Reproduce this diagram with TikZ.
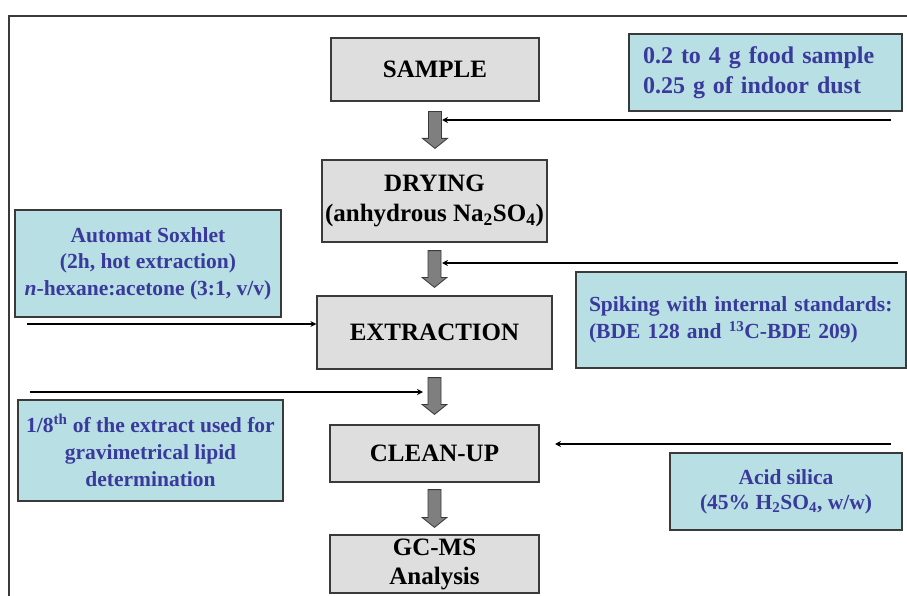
\documentclass[tikz,border=0pt]{standalone}
\usepackage{fontspec}
\setmainfont{Liberation Serif}
\usetikzlibrary{calc,arrows.meta}
\definecolor{grayfill}{HTML}{DEDEDE}
\definecolor{boxline}{HTML}{3A3A3A}
\definecolor{bluefill}{HTML}{B8DFE3}
\definecolor{bluetext}{HTML}{3A3A9C}
\definecolor{arrowfill}{HTML}{7F7F7F}
\newcommand\blockarr[2]{\draw[barrow] let \p1=(#1), \p2=(#2) in
  (\x1-6.5pt,\y1) -- (\x1+6.5pt,\y1) -- (\x1+6.5pt,\y2+10pt) -- (\x1+12.5pt,\y2+10pt)
  -- (\x1,\y2) -- (\x1-12.5pt,\y2+10pt) -- (\x1-6.5pt,\y2+10pt) -- cycle;}
\begin{document}
\begin{tikzpicture}[x=1pt,y=-1pt,
  stepbox/.style={draw=boxline,line width=1.2pt,fill=grayfill,inner sep=0pt,align=center,
    font=\fontsize{25}{30}\selectfont\bfseries},
  notebox/.style={draw=boxline,line width=1.2pt,fill=bluefill,inner sep=0pt,align=center,
    text=bluetext,font=\fontsize{21.5}{27}\selectfont\bfseries},
  barrow/.style={draw=boxline,line width=0.8pt,fill=arrowfill},
  feed/.style={line width=1.1pt,-{Stealth[length=6pt,width=6pt]}},
  frame/.style={line width=1.5pt,draw=boxline}]
\useasboundingbox (0,0) rectangle (907,596);
\fill[white] (0,0) rectangle (907,596);
\draw[frame] (9,600) -- (9,16) -- (912,16);

% process boxes
\node[stepbox,minimum width=208pt,minimum height=63pt] (sample) at (435,69.5) {SAMPLE};
\node[stepbox,minimum width=225pt,minimum height=82pt] (drying) at (434.5,201) {DRYING\\(anhydrous Na\textsubscript{2}SO\textsubscript{4})};
\node[stepbox,minimum width=235pt,minimum height=73pt] (extraction) at (434.5,332.5) {EXTRACTION};
\node[stepbox,minimum width=209pt,minimum height=57pt] (cleanup) at (434.5,453.5) {CLEAN-UP};
\node[stepbox,minimum width=209pt,minimum height=58pt,font=\fontsize{25}{29}\selectfont\bfseries] (gcms) at (434.5,564) {GC-MS\\Analysis};

% note boxes
\node[notebox,align=left,inner xsep=14pt,text width=245pt,minimum height=77pt,
  font=\fontsize{24}{30}\selectfont\bfseries] (food) at (765.5,72.5)
  {0.2 to 4 g food sample\\0.25 g of indoor dust};
\node[notebox,minimum width=266pt,minimum height=107pt,font=\fontsize{21.5}{26.5}\selectfont\bfseries] (soxhlet) at (148,263.5)
  {Automat Soxhlet\\(2h, hot extraction)\\\textit{n}-hexane:acetone (3:1, v/v)};
\node[notebox,align=left,inner xsep=13pt,text width=304pt,minimum height=96pt] (spike) at (741,320)
  {Spiking with internal standards:\\(BDE 128 and \textsuperscript{13}C-BDE 209)};
\node[notebox,minimum width=265pt,minimum height=101pt] (lipid) at (150.5,450.5)
  {1/8\textsuperscript{th} of the extract used for\\gravimetrical lipid\\determination};
\node[notebox,minimum width=232pt,minimum height=77pt,font=\fontsize{21.5}{25}\selectfont\bfseries] (acid) at (786,491.5)
  {Acid silica\\(45\% H\textsubscript{2}SO\textsubscript{4}, w/w)};

% block arrows between steps
\coordinate (a1s) at ($(sample.south)+(0,10)$);
\coordinate (a1e) at ($(drying.north)+(0,-11)$);
\coordinate (a2s) at ($(drying.south)+(0,8)$);
\coordinate (a2e) at ($(extraction.north)+(0,-8)$);
\coordinate (a3s) at ($(extraction.south)+(0,8)$);
\coordinate (a3e) at ($(cleanup.north)+(0,-10)$);
\coordinate (a4s) at ($(cleanup.south)+(0,7)$);
\coordinate (a4e) at ($(gcms.north)+(0,-7)$);
\blockarr{a1s}{a1e}
\blockarr{a2s}{a2e}
\blockarr{a3s}{a3e}
\blockarr{a4s}{a4e}

% feed lines
\coordinate (f1) at (891,120);
\coordinate (t1) at (442,120);
\coordinate (f2) at (898,263);
\coordinate (t2) at (442,263);
\coordinate (f3) at (27,324);
\coordinate (f4) at (30,392);
\coordinate (t4) at (423,392);
\coordinate (f5) at (891,444);
\coordinate (t5) at (555,444);
\draw[feed] (f1) -- (t1);
\draw[feed] (f2) -- (t2);
\draw[feed] (f3) -- (extraction.west |- f3);
\draw[feed] (f4) -- (t4);
\draw[feed] (f5) -- (t5);
\end{tikzpicture}
\end{document}
